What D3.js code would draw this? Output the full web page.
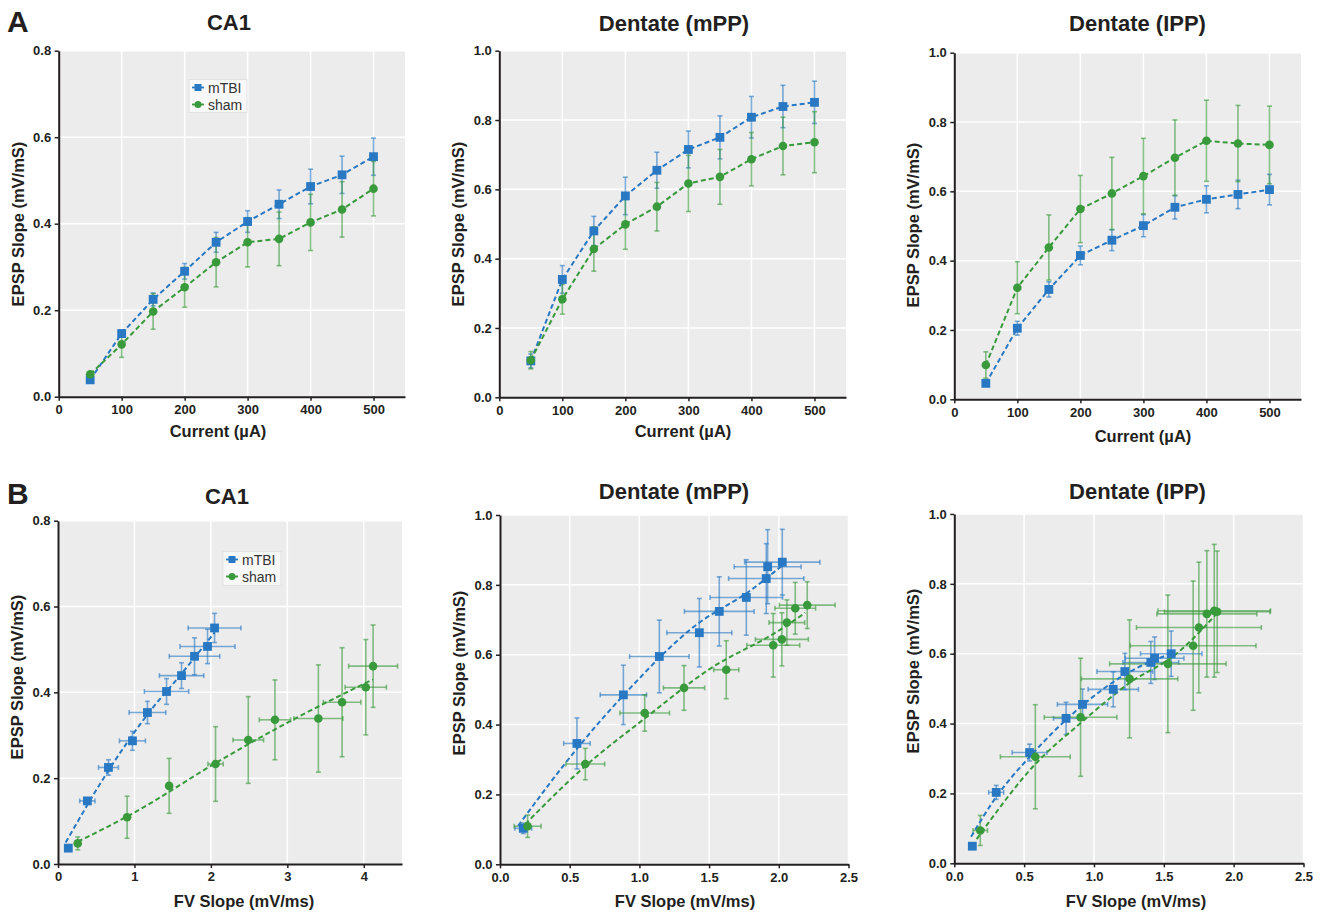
<!DOCTYPE html>
<html>
<head>
<meta charset="utf-8">
<script src="https://cdn.jsdelivr.net/npm/d3@7"></script>
<style>
  body { margin: 0; background: #fff; }
  text { font-family: "Liberation Sans", Arial, Helvetica, sans-serif; }
</style>
</head>
<body>
<div id="chart"></div>
<script>
// ---- data ----
const seriesNames = ["mTBI", "sham"];
const currents = [50, 100, 150, 200, 250, 300, 350, 400, 450, 500];

// A: EPSP slope vs stimulus current
const a1Mtbi = [0.039, 0.146, 0.225, 0.290, 0.357, 0.405, 0.445, 0.486, 0.513, 0.555];
const a1MtbiErr = [0.005, 0.008, 0.015, 0.018, 0.023, 0.025, 0.033, 0.040, 0.043, 0.043];
const a1Sham = [0.052, 0.121, 0.197, 0.253, 0.311, 0.357, 0.365, 0.403, 0.433, 0.481];
const a1ShamErr = [0.005, 0.030, 0.041, 0.046, 0.057, 0.057, 0.062, 0.065, 0.064, 0.063];

const a2Mtbi = [0.105, 0.340, 0.480, 0.581, 0.655, 0.715, 0.750, 0.808, 0.839, 0.851];
const a2MtbiErr = [0.020, 0.040, 0.042, 0.054, 0.052, 0.053, 0.062, 0.060, 0.061, 0.061];
const a2Sham = [0.107, 0.283, 0.428, 0.499, 0.550, 0.617, 0.636, 0.687, 0.725, 0.736];
const a2ShamErr = [0.025, 0.043, 0.064, 0.072, 0.070, 0.081, 0.079, 0.077, 0.083, 0.088];

const a3Mtbi = [0.046, 0.205, 0.317, 0.415, 0.459, 0.501, 0.554, 0.577, 0.591, 0.605];
const a3MtbiErr = [0.005, 0.020, 0.022, 0.027, 0.030, 0.032, 0.034, 0.039, 0.041, 0.044];
const a3Sham = [0.099, 0.322, 0.438, 0.549, 0.594, 0.644, 0.697, 0.746, 0.738, 0.734];
const a3ShamErr = [0.038, 0.075, 0.094, 0.097, 0.104, 0.109, 0.109, 0.117, 0.110, 0.112];

// B: EPSP slope vs fiber volley slope
const b1MtbiFv = [0.135, 0.384, 0.660, 0.974, 1.170, 1.420, 1.616, 1.786, 1.956, 2.048];
const b1MtbiFvErr = [0.01, 0.10, 0.13, 0.17, 0.24, 0.29, 0.29, 0.33, 0.36, 0.345];
const b1MtbiEpsp = [0.037, 0.147, 0.225, 0.287, 0.353, 0.402, 0.439, 0.484, 0.507, 0.550];
const b1MtbiEpspErr = [0.004, 0.005, 0.018, 0.022, 0.026, 0.030, 0.030, 0.043, 0.040, 0.034];
const b1ShamFv = [0.258, 0.904, 1.454, 2.061, 2.489, 2.838, 3.406, 3.716, 4.026, 4.122];
const b1ShamFvErr = [0.0, 0.0, 0.0, 0.10, 0.20, 0.205, 0.32, 0.245, 0.27, 0.32];
const b1ShamEpsp = [0.048, 0.109, 0.182, 0.233, 0.289, 0.336, 0.339, 0.377, 0.412, 0.461];
const b1ShamEpspErr = [0.015, 0.049, 0.064, 0.087, 0.101, 0.093, 0.125, 0.127, 0.111, 0.096];
const b1MtbiFitX = [0.10, 0.65, 1.20, 1.60, 2.05];
const b1MtbiFitY = [0.050, 0.215, 0.355, 0.440, 0.540];
const b1ShamFitX = [0.26, 1.00, 2.06, 3.06, 4.12];
const b1ShamFitY = [0.052, 0.120, 0.235, 0.335, 0.430];

const b2MtbiFv = [0.167, 0.552, 0.885, 1.143, 1.430, 1.573, 1.767, 1.910, 1.920, 2.025];
const b2MtbiFvErr = [0.06, 0.095, 0.166, 0.213, 0.233, 0.25, 0.26, 0.27, 0.24, 0.27];
const b2MtbiEpsp = [0.103, 0.346, 0.485, 0.595, 0.663, 0.724, 0.764, 0.818, 0.852, 0.865];
const b2MtbiEpspErr = [0.015, 0.073, 0.085, 0.104, 0.098, 0.099, 0.108, 0.100, 0.106, 0.094];
const b2ShamFv = [0.198, 0.612, 1.038, 1.320, 1.623, 1.960, 2.022, 2.058, 2.118, 2.204];
const b2ShamFvErr = [0.097, 0.139, 0.178, 0.148, 0.09, 0.19, 0.19, 0.128, 0.146, 0.20];
const b2ShamEpsp = [0.109, 0.287, 0.433, 0.505, 0.557, 0.627, 0.644, 0.692, 0.733, 0.742];
const b2ShamEpspErr = [0.032, 0.045, 0.052, 0.064, 0.083, 0.091, 0.076, 0.065, 0.074, 0.067];
const b2MtbiFitX = [0.13, 0.55, 0.90, 1.39, 1.80, 2.03];
const b2MtbiFitY = [0.110, 0.330, 0.490, 0.680, 0.785, 0.857];
const b2ShamFitX = [0.14, 0.60, 1.04, 1.50, 2.00, 2.19];
const b2ShamFitY = [0.098, 0.277, 0.418, 0.558, 0.669, 0.720];

const b3MtbiFv = [0.129, 0.300, 0.539, 0.800, 0.918, 1.138, 1.221, 1.407, 1.434, 1.553];
const b3MtbiFvErr = [0.0, 0.054, 0.125, 0.09, 0.18, 0.18, 0.20, 0.20, 0.21, 0.22];
const b3MtbiEpsp = [0.049, 0.203, 0.317, 0.415, 0.455, 0.498, 0.549, 0.575, 0.587, 0.600];
const b3MtbiEpspErr = [0.0, 0.020, 0.024, 0.046, 0.044, 0.050, 0.052, 0.060, 0.061, 0.065];
const b3ShamFv = [0.186, 0.580, 0.904, 1.255, 1.529, 1.710, 1.751, 1.808, 1.861, 1.882];
const b3ShamFvErr = [0.052, 0.25, 0.26, 0.345, 0.417, 0.45, 0.447, 0.358, 0.403, 0.378];
const b3ShamEpsp = [0.094, 0.305, 0.418, 0.528, 0.571, 0.623, 0.675, 0.714, 0.723, 0.720];
const b3ShamEpspErr = [0.043, 0.149, 0.169, 0.169, 0.197, 0.185, 0.187, 0.181, 0.190, 0.174];
const b3MtbiFitX = [0.12, 0.30, 0.54, 0.92, 1.22, 1.555];
const b3MtbiFitY = [0.076, 0.190, 0.305, 0.453, 0.540, 0.601];
const b3ShamFitX = [0.16, 0.58, 0.90, 1.25, 1.60, 1.877];
const b3ShamFitY = [0.069, 0.284, 0.400, 0.515, 0.603, 0.714];

const currentTicks = [0, 100, 200, 300, 400, 500];
const fvTicksCA1 = [0, 1, 2, 3, 4];
const fvTicksDG = [0, 0.5, 1.0, 1.5, 2.0, 2.5];
const epspTicks08 = [0, 0.2, 0.4, 0.6, 0.8];
const epspTicks10 = [0, 0.2, 0.4, 0.6, 0.8, 1.0];

const colors = { mTBI: "#2878c3", sham: "#389a3b" };
const axisColor = "#231f20";

const svg = d3.select("#chart").append("svg")
  .attr("width", 1321).attr("height", 912);

// zip helpers
function pointsA(xs, ys, es) {
  return xs.map((x, i) => ({ x: x, y: ys[i], ey: es[i], ex: 0 }));
}
function pointsB(xs, exs, ys, eys) {
  return xs.map((x, i) => ({ x: x, y: ys[i], ex: exs[i], ey: eys[i] }));
}

function drawPanel(p) {
  const x = d3.scaleLinear().domain(p.xDomain).range([p.left, p.right]);
  const y = d3.scaleLinear().domain(p.yDomain).range([p.bottom, p.top]);
  const g = svg.append("g");

  // plot background + grid
  g.append("rect")
    .attr("x", p.left).attr("y", p.top)
    .attr("width", p.right - p.left).attr("height", p.bottom - p.top)
    .attr("fill", "#ececec");
  g.selectAll(".gx").data(p.xTicks.filter(d => d > 0)).enter().append("line")
    .attr("x1", d => x(d)).attr("x2", d => x(d))
    .attr("y1", p.top).attr("y2", p.bottom)
    .attr("stroke", "#fff").attr("stroke-width", 1.5);
  g.selectAll(".gy").data(p.yTicks.filter(d => d > 0)).enter().append("line")
    .attr("y1", d => y(d)).attr("y2", d => y(d))
    .attr("x1", p.left).attr("x2", p.right)
    .attr("stroke", "#fff").attr("stroke-width", 1.5);

  // error bars first
  p.series.forEach(s => {
    const c = colors[s.name];
    const eb = g.append("g").attr("stroke", c).attr("stroke-opacity", 0.6).attr("stroke-width", 1.6);
    s.points.forEach(d => {
      if (d.ey > 0) {
        eb.append("line").attr("x1", x(d.x)).attr("x2", x(d.x))
          .attr("y1", y(d.y - d.ey)).attr("y2", y(d.y + d.ey));
        [d.y - d.ey, d.y + d.ey].forEach(v => {
          eb.append("line").attr("x1", x(d.x) - 2.5).attr("x2", x(d.x) + 2.5)
            .attr("y1", y(v)).attr("y2", y(v));
        });
      }
      if (d.ex > 0) {
        eb.append("line").attr("y1", y(d.y)).attr("y2", y(d.y))
          .attr("x1", x(d.x - d.ex)).attr("x2", x(d.x + d.ex));
        [d.x - d.ex, d.x + d.ex].forEach(v => {
          eb.append("line").attr("y1", y(d.y) - 2.5).attr("y2", y(d.y) + 2.5)
            .attr("x1", x(v)).attr("x2", x(v));
        });
      }
    });
  });

  // dashed lines (connections in A, fitted curves in B)
  const line = d3.line().x(d => x(d[0])).y(d => y(d[1])).curve(p.curve || d3.curveLinear);
  p.series.forEach(s => {
    g.append("path")
      .datum(s.linePts)
      .attr("d", line)
      .attr("fill", "none")
      .attr("stroke", colors[s.name])
      .attr("stroke-width", 2)
      .attr("stroke-dasharray", "5,3");
  });

  // markers
  p.series.forEach(s => {
    const c = colors[s.name];
    if (s.name === "mTBI") {
      g.selectAll(null).data(s.points).enter().append("rect")
        .attr("x", d => x(d.x) - 4.4).attr("y", d => y(d.y) - 4.4)
        .attr("width", 8.8).attr("height", 8.8).attr("fill", c);
    } else {
      g.selectAll(null).data(s.points).enter().append("circle")
        .attr("cx", d => x(d.x)).attr("cy", d => y(d.y)).attr("r", 4.3).attr("fill", c);
    }
  });

  // axes
  const xAxis = d3.axisBottom(x).tickValues(p.xTicks).tickFormat(p.xFormat)
    .tickSize(4).tickSizeOuter(0).tickPadding(4);
  const yAxis = d3.axisLeft(y).tickValues(p.yTicks).tickFormat(d3.format(".1f"))
    .tickSize(4).tickSizeOuter(0).tickPadding(3.5);
  [g.append("g").attr("transform", `translate(0,${p.bottom})`).call(xAxis),
   g.append("g").attr("transform", `translate(${p.left},0)`).call(yAxis)].forEach(a => {
    a.select(".domain").attr("stroke", axisColor).attr("stroke-width", 2);
    a.selectAll(".tick line").attr("stroke", axisColor).attr("stroke-width", 1.5);
    a.selectAll(".tick text").attr("fill", axisColor)
      .style("font-size", "13px").style("font-weight", "bold")
      .style("font-family", '"Liberation Sans", Arial, sans-serif');
  });

  // titles / labels
  svg.append("text").attr("x", p.titleX).attr("y", p.titleY)
    .attr("text-anchor", "middle").style("font-size", "22px").style("font-weight", "bold")
    .attr("fill", axisColor).text(p.title);
  svg.append("text").attr("x", p.xLabelX).attr("y", p.xLabelY)
    .attr("text-anchor", "middle").style("font-size", "16.5px").style("font-weight", "bold")
    .attr("fill", axisColor).text(p.xLabel);
  svg.append("text")
    .attr("transform", `translate(${p.left - 35},${p.yLabelY}) rotate(-90)`)
    .attr("text-anchor", "middle").style("font-size", "16.5px").style("font-weight", "bold")
    .attr("fill", axisColor).text("EPSP Slope (mV/mS)");

  if (p.legend) {
    const L = p.legend;
    svg.append("rect").attr("x", L.x).attr("y", L.y).attr("width", L.w).attr("height", L.h)
      .attr("fill", "#f8f8f8").attr("stroke", "#e2e2e2").attr("stroke-width", 1);
    seriesNames.forEach((name, i) => {
      const cy = L.y + 8 + i * 17;
      const mx = L.x + 9;
      svg.append("line").attr("x1", mx - 6).attr("x2", mx + 6).attr("y1", cy).attr("y2", cy)
        .attr("stroke", colors[name]).attr("stroke-width", 1.8);
      if (name === "mTBI") {
        svg.append("rect").attr("x", mx - 3.5).attr("y", cy - 3.5).attr("width", 7).attr("height", 7)
          .attr("fill", colors[name]);
      } else {
        svg.append("circle").attr("cx", mx).attr("cy", cy).attr("r", 3.5).attr("fill", colors[name]);
      }
      svg.append("text").attr("x", L.x + 19).attr("y", cy + 5)
        .style("font-size", "14px").attr("fill", "#333").text(name);
    });
  }
}

function seriesA(mt, mtE, sh, shE) {
  return [
    { name: "mTBI", points: pointsA(currents, mt, mtE), linePts: currents.map((c, i) => [c, mt[i]]) },
    { name: "sham", points: pointsA(currents, sh, shE), linePts: currents.map((c, i) => [c, sh[i]]) }
  ];
}
function seriesB(mFv, mFvE, mEp, mEpE, mFx, mFy, sFv, sFvE, sEp, sEpE, sFx, sFy) {
  return [
    { name: "mTBI", points: pointsB(mFv, mFvE, mEp, mEpE), linePts: mFx.map((v, i) => [v, mFy[i]]) },
    { name: "sham", points: pointsB(sFv, sFvE, sEp, sEpE), linePts: sFx.map((v, i) => [v, sFy[i]]) }
  ];
}

const panels = [
  { left: 58.7, right: 405, top: 50.7, bottom: 396.7, xDomain: [0, 550], yDomain: [0, 0.8],
    xTicks: currentTicks, yTicks: epspTicks08, xFormat: d3.format("d"),
    title: "CA1", titleX: 229, titleY: 29.5, xLabel: "Current (\u00b5A)", xLabelX: 218, xLabelY: 437, yLabelY: 224,
    series: seriesA(a1Mtbi, a1MtbiErr, a1Sham, a1ShamErr),
    legend: { x: 189, y: 79.5, w: 58, h: 33 } },
  { left: 499.3, right: 846, top: 50.7, bottom: 397.3, xDomain: [0, 550], yDomain: [0, 1.0],
    xTicks: currentTicks, yTicks: epspTicks10, xFormat: d3.format("d"),
    title: "Dentate (mPP)", titleX: 674, titleY: 31, xLabel: "Current (\u00b5A)", xLabelX: 683, xLabelY: 437, yLabelY: 224,
    series: seriesA(a2Mtbi, a2MtbiErr, a2Sham, a2ShamErr) },
  { left: 954.3, right: 1301, top: 52.7, bottom: 399.3, xDomain: [0, 550], yDomain: [0, 1.0],
    xTicks: currentTicks, yTicks: epspTicks10, xFormat: d3.format("d"),
    title: "Dentate (IPP)", titleX: 1137.5, titleY: 31, xLabel: "Current (\u00b5A)", xLabelX: 1143, xLabelY: 441.5, yLabelY: 225,
    series: seriesA(a3Mtbi, a3MtbiErr, a3Sham, a3ShamErr) },
  { left: 58, right: 402, top: 520.7, bottom: 864, xDomain: [0, 4.5], yDomain: [0, 0.8],
    xTicks: fvTicksCA1, yTicks: epspTicks08, xFormat: d3.format("d"), curve: d3.curveMonotoneX,
    title: "CA1", titleX: 227, titleY: 503.5, xLabel: "FV Slope (mV/ms)", xLabelX: 244, xLabelY: 907, yLabelY: 677,
    series: seriesB(b1MtbiFv, b1MtbiFvErr, b1MtbiEpsp, b1MtbiEpspErr, b1MtbiFitX, b1MtbiFitY,
                    b1ShamFv, b1ShamFvErr, b1ShamEpsp, b1ShamEpspErr, b1ShamFitX, b1ShamFitY),
    legend: { x: 223, y: 551.5, w: 58, h: 34 } },
  { left: 500, right: 848.5, top: 515, bottom: 864.3, xDomain: [0, 2.5], yDomain: [0, 1.0],
    xTicks: fvTicksDG, yTicks: epspTicks10, xFormat: d3.format(".1f"), curve: d3.curveMonotoneX,
    title: "Dentate (mPP)", titleX: 674, titleY: 498.5, xLabel: "FV Slope (mV/ms)", xLabelX: 685, xLabelY: 907, yLabelY: 673,
    series: seriesB(b2MtbiFv, b2MtbiFvErr, b2MtbiEpsp, b2MtbiEpspErr, b2MtbiFitX, b2MtbiFitY,
                    b2ShamFv, b2ShamFvErr, b2ShamEpsp, b2ShamEpspErr, b2ShamFitX, b2ShamFitY) },
  { left: 954.3, right: 1303.5, top: 514, bottom: 863.3, xDomain: [0, 2.5], yDomain: [0, 1.0],
    xTicks: fvTicksDG, yTicks: epspTicks10, xFormat: d3.format(".1f"), curve: d3.curveMonotoneX,
    title: "Dentate (IPP)", titleX: 1137.5, titleY: 498.5, xLabel: "FV Slope (mV/ms)", xLabelX: 1136, xLabelY: 907, yLabelY: 671,
    series: seriesB(b3MtbiFv, b3MtbiFvErr, b3MtbiEpsp, b3MtbiEpspErr, b3MtbiFitX, b3MtbiFitY,
                    b3ShamFv, b3ShamFvErr, b3ShamEpsp, b3ShamEpspErr, b3ShamFitX, b3ShamFitY) }
];

panels.forEach(drawPanel);

// panel letters
svg.append("text").attr("x", 7).attr("y", 31.5).style("font-size", "30px").style("font-weight", "bold")
  .attr("fill", axisColor).text("A");
svg.append("text").attr("x", 7).attr("y", 504).style("font-size", "30px").style("font-weight", "bold")
  .attr("fill", axisColor).text("B");
</script>
</body>
</html>
